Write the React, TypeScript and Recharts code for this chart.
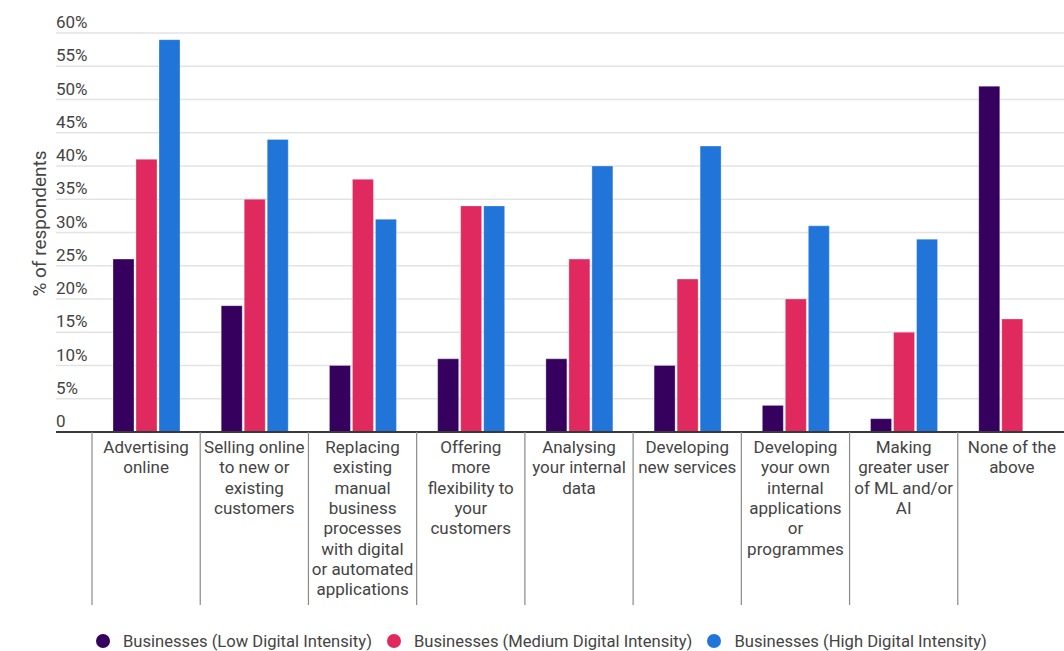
import { Bar, BarChart, CartesianGrid, XAxis, YAxis } from 'recharts';

// Category labels keep their line breaks; each line becomes a tspan.
const categories = [
  'Advertising\nonline',
  'Selling online\nto new or\nexisting\ncustomers',
  'Replacing\nexisting\nmanual\nbusiness\nprocesses\nwith digital\nor automated\napplications',
  'Offering\nmore\nflexibility to\nyour\ncustomers',
  'Analysing\nyour internal\ndata',
  'Developing\nnew services',
  'Developing\nyour own\ninternal\napplications\nor\nprogrammes',
  'Making\ngreater user\nof ML and/or\nAI',
  'None of the\nabove',
];

const lowIntensity = [26, 19, 10, 11, 11, 10, 4, 2, 52];
const mediumIntensity = [41, 35, 38, 34, 26, 23, 20, 15, 17];
const highIntensity = [59, 44, 32, 34, 40, 43, 31, 29, null];

const yTicks = [0, 5, 10, 15, 20, 25, 30, 35, 40, 45, 50, 55, 60];

const series = [
  { key: 'low', name: 'Businesses (Low Digital Intensity)', color: '#35005e' },
  { key: 'medium', name: 'Businesses (Medium Digital Intensity)', color: '#e0295e' },
  { key: 'high', name: 'Businesses (High Digital Intensity)', color: '#2175d9' },
];

const data = categories.map((label, i) => ({
  label,
  low: lowIntensity[i],
  medium: mediumIntensity[i],
  high: highIntensity[i],
}));

const CHART_W = 1066;
const CHART_H = 620;
const Y_AXIS_W = 56;
const X_PAD_LEFT = 36;
const BAND = (CHART_W - Y_AXIS_W - X_PAD_LEFT) / categories.length;
const FONT = 'Roboto, "Noto Sans", sans-serif';
const TEXT = '#444444';

function CategoryTick(props: any) {
  const { x, y, payload } = props;
  const lines = String(payload.value).split('\n');
  const left = x - BAND / 2;
  return (
    <g>
      <line x1={left} y1={y} x2={left} y2={y + 173} stroke="#8a8a8a" strokeWidth={1.2} />
      <text x={x} y={y + 21} textAnchor="middle" fontSize={17} fontFamily={FONT} fill={TEXT}>
        {lines.map((line, i) => (
          <tspan key={i} x={x} dy={i === 0 ? 0 : 20.3}>
            {line}
          </tspan>
        ))}
      </text>
    </g>
  );
}

function PercentTick(props: any) {
  const { y, payload } = props;
  return (
    <text x={Y_AXIS_W} y={y - 5} textAnchor="start" fontSize={17} fontFamily={FONT} fill={TEXT}>
      {payload.value === 0 ? '0' : `${payload.value}%`}
    </text>
  );
}

function LegendRow() {
  return (
    <div
      style={{
        position: 'absolute',
        top: 631,
        left: 96,
        height: 20,
        display: 'flex',
        alignItems: 'center',
        fontFamily: FONT,
        fontSize: 16.6,
        color: TEXT,
        whiteSpace: 'nowrap',
      }}
    >
      {series.map((s) => (
        <div key={s.key} style={{ display: 'flex', alignItems: 'center', marginRight: 15 }}>
          <span
            style={{
              width: 14,
              height: 14,
              borderRadius: '50%',
              background: s.color,
              display: 'inline-block',
              marginRight: 13,
            }}
          />
          <span>{s.name}</span>
        </div>
      ))}
    </div>
  );
}

export default function App() {
  return (
    <div
      style={{
        position: 'absolute',
        left: 0,
        top: 0,
        width: 1064,
        height: 651,
        overflow: 'hidden',
        background: '#fff',
      }}
    >
      <BarChart
        width={CHART_W}
        height={CHART_H}
        data={data}
        margin={{ top: 33, right: 0, left: 0, bottom: 0 }}
        barSize={21}
        barGap={2}
      >
        <CartesianGrid horizontal vertical={false} stroke="#e3e3e3" strokeWidth={1.5} />
        <XAxis
          dataKey="label"
          interval={0}
          padding={{ left: X_PAD_LEFT, right: 0 }}
          height={CHART_H - 33 - 399}
          tickLine={false}
          tickSize={0}
          tickMargin={0}
          axisLine={{ stroke: '#3a3a3a', strokeWidth: 2 }}
          tick={<CategoryTick />}
        />
        <YAxis
          width={Y_AXIS_W}
          domain={[0, 60]}
          ticks={yTicks}
          axisLine={false}
          tickLine={false}
          tick={<PercentTick />}
          label={{
            value: '% of respondents',
            angle: -90,
            position: 'insideLeft',
            offset: 0,
            dx: 39,
            dy: -9,
            style: { fontSize: 19, fontFamily: FONT, fill: TEXT, textAnchor: 'middle' },
          }}
        />
        {series.map((s) => (
          <Bar
            key={s.key}
            dataKey={s.key}
            name={s.name}
            fill={s.color}
            stroke="#ffffff"
            strokeOpacity={0.3}
            strokeWidth={1}
            isAnimationActive={false}
          />
        ))}
      </BarChart>
      <LegendRow />
    </div>
  );
}
